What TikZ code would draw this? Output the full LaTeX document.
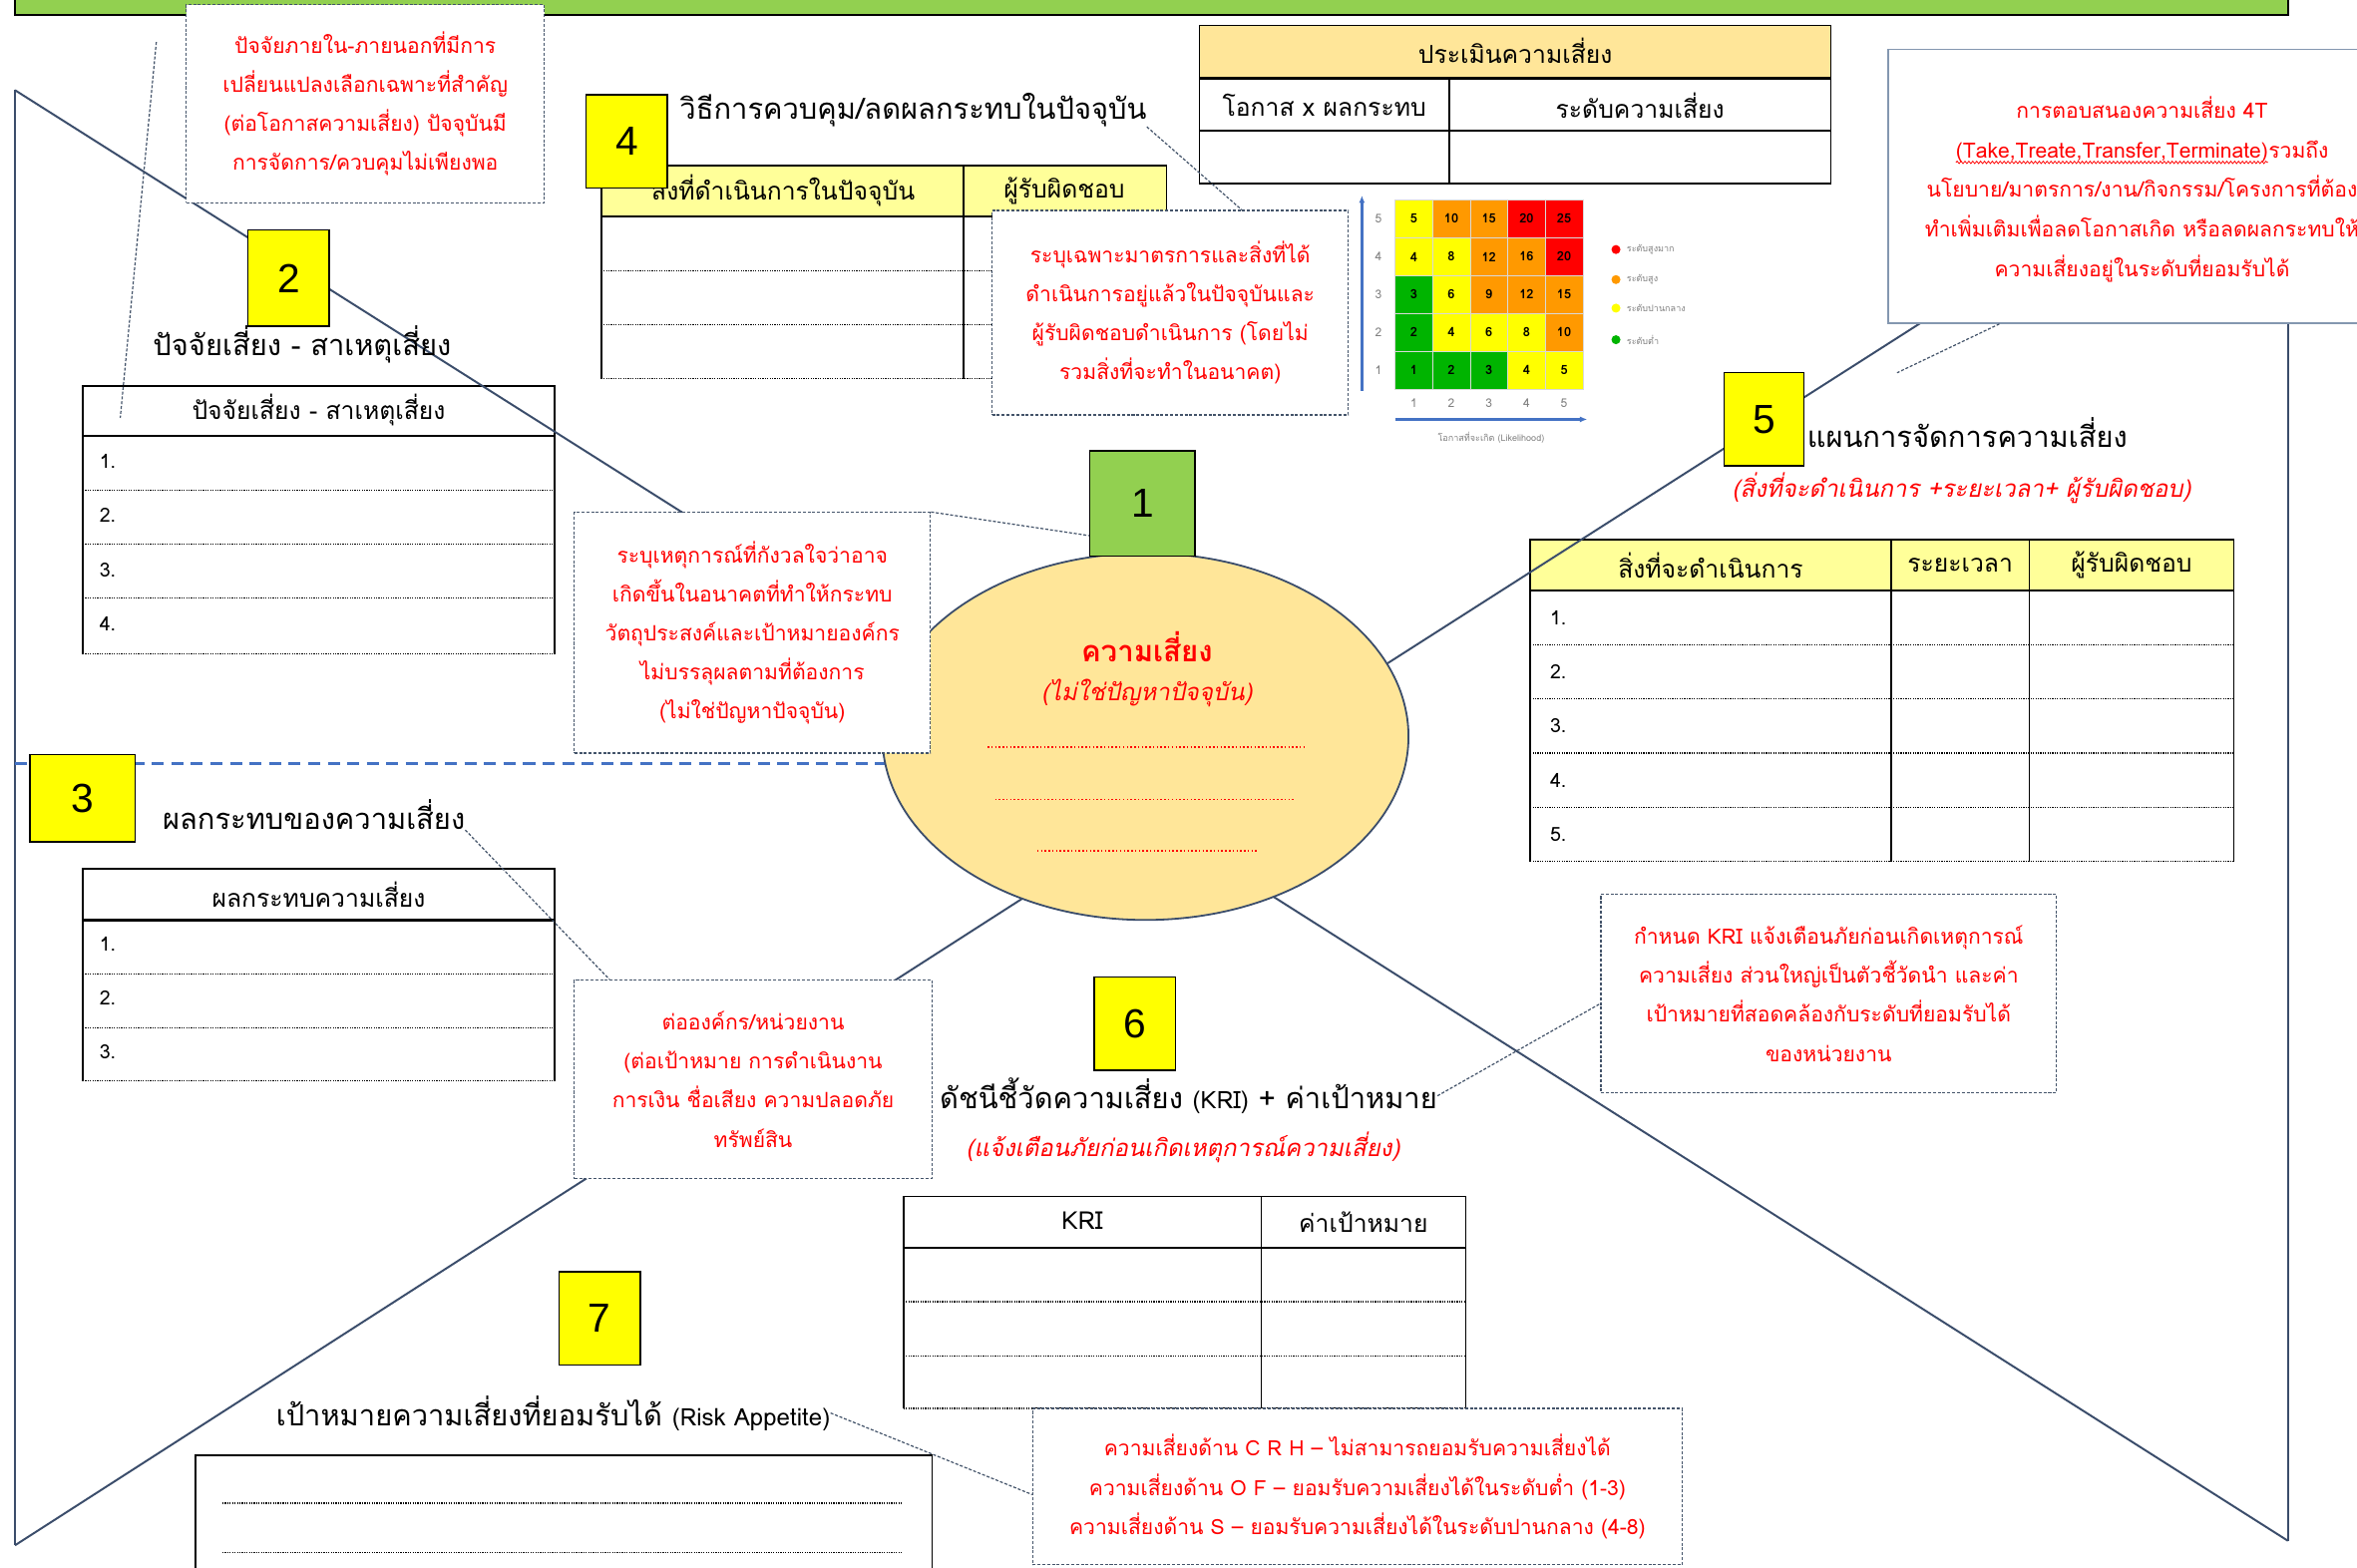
\documentclass[tikz,border=0pt]{standalone}
\usepackage{fontspec}
\setmainfont{Loma}[Script=Thai]
\newfontfamily\numfont{Liberation Sans}
\newfontfamily\slantfont{Loma}[Script=Thai,FakeSlant=0.2]
\usetikzlibrary{arrows.meta,calc,shapes.geometric,decorations.pathmorphing}
\definecolor{ygreen}{HTML}{92D050}
\definecolor{yel}{HTML}{FFFF00}
\definecolor{lyel}{HTML}{FFFF99}
\definecolor{peach}{HTML}{FFE699}
\definecolor{outl}{HTML}{3B4D6B}
\definecolor{dashc}{HTML}{44546A}
\definecolor{blu}{HTML}{4472C4}
\definecolor{mG}{HTML}{00B400}
\definecolor{mY}{HTML}{FFFF00}
\definecolor{mO}{HTML}{FF9900}
\definecolor{mR}{HTML}{FF0000}
\definecolor{boxgray}{HTML}{8497B0}
\newcommand{\wavyul}[1]{\tikz[baseline=(wv.base),x=1pt,y=1pt]{\node[inner sep=0pt,outer sep=0pt,minimum width=0pt,minimum height=0pt,draw=none,fill=none,anchor=base west] (wv) at (0,0) {#1};\draw[red, line width=0.5, solid, decorate, decoration={snake, amplitude=0.8pt, segment length=2.6pt}] ([yshift=-3pt]wv.base west) -- ([yshift=-3pt]wv.base east);}}
\begin{document}
\begin{tikzpicture}[x=1pt,y=-1pt,
  numbox/.style={draw=black, line width=1, fill=yel, minimum width=54, minimum height=62, inner sep=0, font=\numfont\fontsize{27}{27}\selectfont},
  note/.style={draw=dashc, line width=0.8, dash pattern=on 2pt off 1.2pt, fill=white, text=red, align=center, inner sep=0, font=\fontsize{14}{26}\selectfont},
  conn/.style={draw=dashc, line width=0.8, dash pattern=on 2pt off 1.2pt},
  outline/.style={draw=outl, line width=1.3},
  heading/.style={font=\fontsize{19.3}{22}\selectfont, inner sep=0},
  th/.style={font=\fontsize{16.4}{18}\selectfont, inner sep=0},
  rownum/.style={font=\fontsize{13}{14}\selectfont, anchor=west, inner sep=0},
  redsub/.style={text=red, font=\slantfont\fontsize{15.9}{18}\selectfont, inner sep=0},
  tline/.style={line width=1.1, draw=black},
  hline/.style={line width=1.6, draw=black},
  dline/.style={line width=0.9, draw=black, dash pattern=on 0.8pt off 0.8pt},
  tiny/.style={text=gray, font=\fontsize{6}{7}\selectfont, inner sep=0}
]
\clip (0,0) rectangle (1568,1043);
\fill[white] (0,0) rectangle (1568,1043);

% top green bar
\draw[fill=ygreen, line width=1.2] (10,-10) rectangle (1522,10);

% ---------- table 2 (factors) ----------
\draw[tline] (55,435) -- (55,257) -- (369,257) -- (369,435);
\draw[hline] (55,290) -- (369,290);
\foreach \yy in {326,362,398,435} \draw[dline] (55,\yy) -- (369,\yy);
\node[th] (t2h) at (212,273) {ปัจจัยเสี่ยง - สาเหตุเสี่ยง};
\node[rownum] (t2r1) at (66,307) {1.};
\node[rownum] (t2r2) at (66,343) {2.};
\node[rownum] (t2r3) at (66,379) {3.};
\node[rownum] (t2r4) at (66,415) {4.};

% ---------- table 3 (impact) ----------
\draw[tline] (55,719) -- (55,578) -- (369,578) -- (369,719);
\draw[hline] (55,612) -- (369,612);
\foreach \yy in {648,684,719} \draw[dline] (55,\yy) -- (369,\yy);
\node[th] (t3h) at (212,595) {ผลกระทบความเสี่ยง};
\node[rownum] (t3r1) at (66,628) {1.};
\node[rownum] (t3r2) at (66,664) {2.};
\node[rownum] (t3r3) at (66,700) {3.};

% ---------- table 4 (current controls) ----------
\fill[lyel] (400,110) rectangle (776,144);
\draw[tline] (400,252) -- (400,110) -- (776,110) -- (776,144);
\draw[hline] (400,144) -- (776,144);
\draw[tline] (641,110) -- (641,252);
\foreach \yy in {180,216,252} \draw[dline] (400,\yy) -- (776,\yy);
\node[th] (t4h1) at (521,127) {สิ่งที่ดำเนินการในปัจจุบัน};
\node[th] (t4h2) at (708,127) {ผู้รับผิดชอบ};

% ---------- assessment table ----------
\fill[peach] (798,17) rectangle (1218,52);
\draw[tline] (798,17) rectangle (1218,122);
\draw[hline] (798,52) -- (1218,52);
\draw[hline] (798,87) -- (1218,87);
\draw[tline] (964,52) -- (964,122);
\node[th] (tah) at (1008,34) {ประเมินความเสี่ยง};
\node[th] (ta1) at (881,70) {โอกาส x ผลกระทบ};
\node[th] (ta2) at (1091,70) {ระดับความเสี่ยง};

% ---------- risk matrix ----------
\foreach \r/\cols in {1/{mG,mG,mG,mY,mY},2/{mG,mY,mY,mY,mO},3/{mG,mY,mO,mO,mO},4/{mY,mY,mO,mO,mR},5/{mY,mO,mO,mR,mR}}{
  \foreach \cc [count=\c] in \cols {
    \pgfmathsetmacro\xx{928+25*(\c-1)}
    \pgfmathsetmacro\yy{133+25.2*(5-\r)}
    \pgfmathtruncatemacro\vv{\r*\c}
    \fill[\cc, draw=black!15, line width=0.4] (\xx,\yy) rectangle ++(25,25.2);
    \node[font=\bfseries\fontsize{8.5}{9}\selectfont, inner sep=0] (m\r\c) at (\xx+12.5,\yy+12.6) {\vv};
  }
}
\foreach \r in {1,...,5} {
  \node[tiny, font=\fontsize{8}{9}\selectfont] (rl\r) at (917,{133+25.2*(5-\r)+12.6}) {\r};
  \node[tiny, font=\fontsize{8}{9}\selectfont] (cl\r) at ({928+25*(\r-1)+12.5},268) {\r};
}
\draw[blu, line width=1.5, -{Latex[length=5,width=4]}] (906,260) -- (906,130);
\draw[blu, line width=1.5, -{Latex[length=5,width=4]}] (928,279) -- (1056,279);
\node[tiny] (likel) at (992,291) {โอกาสที่จะเกิด (Likelihood)};
\fill[mR] (1075,166) circle (3);
\fill[mO] (1075,186) circle (3);
\fill[mY] (1075,205) circle (3);
\fill[mG] (1075,226) circle (3);
\node[tiny, anchor=west] (lg1) at (1082,166) {ระดับสูงมาก};
\node[tiny, anchor=west] (lg2) at (1082,186) {ระดับสูง};
\node[tiny, anchor=west] (lg3) at (1082,205) {ระดับปานกลาง};
\node[tiny, anchor=west] (lg4) at (1082,226) {ระดับต่ำ};

% ---------- table 5 (plan) ----------
\fill[lyel] (1018,359) rectangle (1486,393);
\draw[tline] (1018,573) -- (1018,359) -- (1486,359) -- (1486,573);
\draw[hline] (1018,393) -- (1486,393);
\draw[tline] (1258,359) -- (1258,573);
\draw[tline] (1350,359) -- (1350,573);
\foreach \yy in {429,465,501,537,573} \draw[dline] (1018,\yy) -- (1486,\yy);
\node[th] (t5h1) at (1138,376) {สิ่งที่จะดำเนินการ};
\node[th] (t5h2) at (1304,376) {ระยะเวลา};
\node[th] (t5h3) at (1418,376) {ผู้รับผิดชอบ};
\foreach \i/\yy in {1/411,2/447,3/483,4/519,5/555} \node[rownum] (t5r\i) at (1031,\yy) {\i.};

% ---------- KRI table ----------
\draw[tline] (601,937) -- (601,796) -- (975,796) -- (975,937);
\draw[hline] (601,830) -- (975,830);
\draw[tline] (839,796) -- (839,937);
\foreach \yy in {866,902,937} \draw[dline] (601,\yy) -- (975,\yy);
\node[th] (tkh1) at (720,812) {KRI};
\node[th] (tkh2) at (907,813) {ค่าเป้าหมาย};

% ---------- table 7 ----------
\draw[tline] (130,1060) -- (130,968) -- (620,968) -- (620,1060);
\draw[dline] (148,1000) -- (600,1000);
\draw[dline] (148,1033) -- (600,1033);

% ---------- outline (the big X frame) ----------
\draw[outline] (10,60) -- (10,1028);
\draw[outline] (10,60) -- (620,446);
\draw[outline] (10,1028) -- (700,585);
\draw[outline] (900,456) -- (1290,207);
\draw[outline] (1522,215) -- (1522,1025);
\draw[outline] (840,592) -- (1522,1025);
\draw[blu, line width=2, dash pattern=on 8pt off 5pt] (10,508) -- (600,508);

% ---------- central risk ellipse ----------
\node[ellipse, draw=outl, line width=1.2, fill=peach, minimum width=350, minimum height=244, inner sep=0] (risk) at (762,490) {};
\node[text=red, font=\bfseries\fontsize{19.5}{21}\selectfont, inner sep=0] (riskt) at (763,430) {ความเสี่ยง};
\node[redsub] (risks) at (763,461) {(ไม่ใช่ปัญหาปัจจุบัน)};
\draw[red, line width=0.9, dash pattern=on 1pt off 1.5pt] (657,497) -- (868,497);
\draw[red, line width=0.9, dash pattern=on 1pt off 1.5pt] (662,532) -- (862,532);
\draw[red, line width=0.9, dash pattern=on 1pt off 1.5pt] (690,566) -- (836,566);

% ---------- number boxes ----------
\node[numbox, fill=ygreen, minimum width=70, minimum height=70] (b1) at (760,335) {1};
\node[numbox, minimum height=64] (b2) at (192,185) {2};
\node[numbox, minimum width=70, minimum height=58] (b3) at (55,531) {3};
\node[numbox] (b4) at (417,94) {4};
\node[numbox, minimum width=53] (b5) at (1173.5,279) {5};
\node[numbox] (b6) at (755,681) {6};
\node[numbox] (b7) at (399,877) {7};

% ---------- headings ----------
\node[heading] (h2) at (201,229) {ปัจจัยเสี่ยง - สาเหตุเสี่ยง};
\node[heading, anchor=west] (h4) at (452,73) {วิธีการควบคุม/ลดผลกระทบในปัจจุบัน};
\node[heading, anchor=west] (h3) at (108,542) {ผลกระทบของความเสี่ยง};
\node[heading, anchor=west] (h5) at (1202,288) {แผนการจัดการความเสี่ยง};
\node[redsub] (h5s) at (1305,325) {(สิ่งที่จะดำเนินการ +ระยะเวลา+ ผู้รับผิดชอบ)};
\node[heading, anchor=west] (h6) at (625,729) {ดัชนีชี้วัดความเสี่ยง {\fontsize{16}{18}\selectfont(KRI)} + ค่าเป้าหมาย};
\node[redsub] (h6s) at (787,763) {(แจ้งเตือนภัยก่อนเกิดเหตุการณ์ความเสี่ยง)};
\node[heading] (h7) at (368,940) {เป้าหมายความเสี่ยงที่ยอมรับได้ {\fontsize{16}{18}\selectfont(Risk Appetite)}};

% ---------- explanatory notes ----------
\node[note, minimum width=238, minimum height=132] (nA) at (243,69) {ปัจจัยภายใน-ภายนอกที่มีการ\\เปลี่ยนแปลงเลือกเฉพาะที่สำคัญ\\(ต่อโอกาสความเสี่ยง) ปัจจุบันมี\\การจัดการ/ควบคุมไม่เพียงพอ};
\node[note, minimum width=237, minimum height=160] (nB) at (500.5,421) {ระบุเหตุการณ์ที่กังวลใจว่าอาจ\\เกิดขึ้นในอนาคตที่ทำให้กระทบ\\วัตถุประสงค์และเป้าหมายองค์กร\\ไม่บรรลุผลตามที่ต้องการ\\(ไม่ใช่ปัญหาปัจจุบัน)};
\node[note, minimum width=238, minimum height=132] (nC) at (501,718) {ต่อองค์กร/หน่วยงาน\\(ต่อเป้าหมาย การดำเนินงาน\\การเงิน ชื่อเสียง ความปลอดภัย\\ทรัพย์สิน};
\node[note, minimum width=237, minimum height=136] (nD) at (778.5,208) {ระบุเฉพาะมาตรการและสิ่งที่ได้\\ดำเนินการอยู่แล้วในปัจจุบันและ\\ผู้รับผิดชอบดำเนินการ (โดยไม่\\รวมสิ่งที่จะทำในอนาคต)};
\node[note, minimum width=303, minimum height=132] (nE) at (1216.5,661) {กำหนด KRI แจ้งเตือนภัยก่อนเกิดเหตุการณ์\\ความเสี่ยง ส่วนใหญ่เป็นตัวชี้วัดนำ และค่า\\เป้าหมายที่สอดคล้องกับระดับที่ยอมรับได้\\ของหน่วยงาน};
\node[note, minimum width=432, minimum height=104] (nF) at (903,989) {ความเสี่ยงด้าน C R H – ไม่สามารถยอมรับความเสี่ยงได้\\ความเสี่ยงด้าน O F – ยอมรับความเสี่ยงได้ในระดับต่ำ (1-3)\\ความเสี่ยงด้าน S – ยอมรับความเสี่ยงได้ในระดับปานกลาง (4-8)};
\node[draw=boxgray, line width=1, fill=white, text=red, align=center, inner sep=0, minimum width=338, minimum height=182, font=\fontsize{14}{26.3}\selectfont] (t4) at (1425,124) {\rule{0pt}{4pt}\\[-12pt]การตอบสนองความเสี่ยง 4T\\\wavyul{(Take,Treate,Transfer,Terminate)}รวมถึง\\นโยบาย/มาตรการ/งาน/กิจกรรม/โครงการที่ต้อง\\ทำเพิ่มเติมเพื่อลดโอกาสเกิด หรือลดผลกระทบให้\\ความเสี่ยงอยู่ในระดับที่ยอมรับได้};

% ---------- dashed callout connectors ----------
\coordinate (cA1) at (104,28);
\coordinate (cA2) at (80,278);
\coordinate (c5) at (1262,248);
\draw[conn] (cA1) -- (cA2);
\draw[conn] (nB.north east) -- ($(b1.south west)!0.2!(b1.north west)$);
\draw[conn] (h3.south east) -- ($(nC.north west)!0.1!(nC.north east)$);
\draw[conn] (h4.south east) -- ($(nD.north west)!0.7!(nD.north east)$);
\draw[conn] ($(t4.south west)!0.22!(t4.south east)$) -- (c5);
\draw[conn] (h6.east) -- ($(nE.north west)!0.55!(nE.south west)$);
\draw[conn] (h7.east) -- ($(nF.north west)!0.55!(nF.south west)$);
\end{tikzpicture}
\end{document}
